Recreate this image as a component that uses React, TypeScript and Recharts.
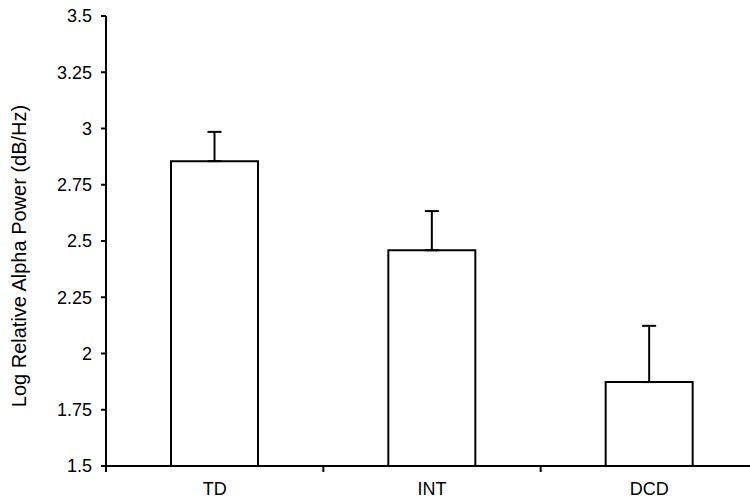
import React from 'react';
import { BarChart, Bar, XAxis, YAxis, ErrorBar, Label } from 'recharts';

const categories = ['TD', 'INT', 'DCD'];
const means = [2.855, 2.459, 1.873];
const upperErrors = [0.13, 0.174, 0.25];
const yTicks = [1.5, 1.75, 2, 2.25, 2.5, 2.75, 3, 3.25, 3.5];

const data = categories.map((name, i) => ({
  name,
  value: means[i],
  err: [0, upperErrors[i]],
}));

const CHART_W = 770;
const CHART_H = 499;
const MARGIN = { top: 16, right: 12, bottom: 3, left: 0 };
const Y_AXIS_W = 106;
const PLOT_W = CHART_W - MARGIN.left - MARGIN.right - Y_AXIS_W;
const FONT = '"Liberation Sans", Arial, sans-serif';

const XTick = ({ x, y, payload }: any) => {
  const band = PLOT_W / categories.length;
  const bx = x - band / 2;
  return (
    <g>
      <line x1={bx} x2={bx} y1={y - 8} y2={y - 2} stroke="#000" strokeWidth={2} />
      <text x={x} y={y} dy={21} textAnchor="middle" fontSize={18} fill="#000" fontFamily={FONT}>
        {payload.value}
      </text>
    </g>
  );
};

const YLabel = ({ viewBox }: any) => {
  const cx = 19;
  const cy = viewBox.y + viewBox.height / 2 + 15;
  return (
    <text
      x={cx}
      y={cy}
      transform={`rotate(-90 ${cx} ${cy})`}
      textAnchor="middle"
      dominantBaseline="central"
      fontSize={20}
      fill="#000"
      fontFamily={FONT}
    >
      Log Relative Alpha Power (dB/Hz)
    </text>
  );
};

export default function App() {
  return (
    <div style={{ position: 'fixed', left: 0, top: 0, width: 750, height: 499, overflow: 'hidden', background: '#fff', fontFamily: FONT }}>
      <BarChart width={CHART_W} height={CHART_H} data={data} margin={MARGIN} barSize={87}>
        <XAxis
          dataKey="name"
          axisLine={{ stroke: '#000', strokeWidth: 2 }}
          tickLine={false}
          tickSize={6}
          tickMargin={2}
          height={30}
          tick={<XTick />}
          interval={0}
        />
        <YAxis
          domain={[1.5, 3.5]}
          ticks={yTicks}
          width={Y_AXIS_W}
          allowDataOverflow
          axisLine={{ stroke: '#000', strokeWidth: 2 }}
          tickLine={{ stroke: '#000', strokeWidth: 2 }}
          tickSize={5}
          tickMargin={9}
          tick={{ fill: '#000', fontSize: 18, fontFamily: FONT }}
        >
          <Label content={<YLabel />} />
        </YAxis>
        <Bar dataKey="value" fill="#fff" stroke="#000" strokeWidth={2} isAnimationActive={false}>
          <ErrorBar dataKey="err" direction="y" width={7} stroke="#000" strokeWidth={2} isAnimationActive={false} />
        </Bar>
      </BarChart>
    </div>
  );
}
